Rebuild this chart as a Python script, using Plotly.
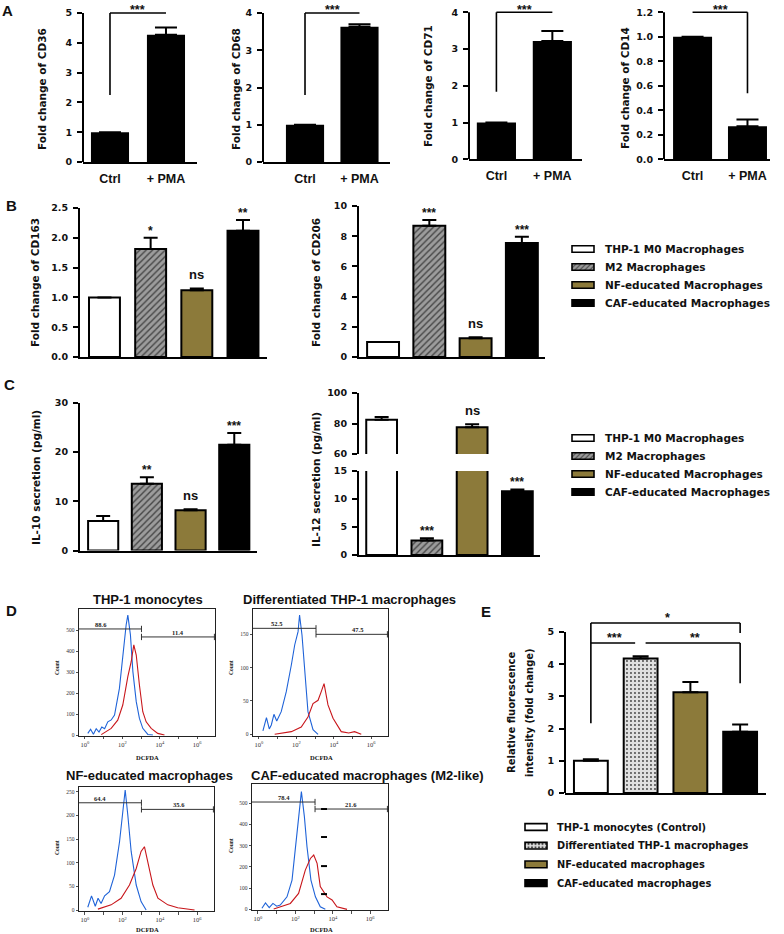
import plotly.graph_objects as go

W, H = 784, 934

# ================= DATA =================
# Panel A
a_categories = ["Ctrl", "+ PMA"]
a_cd36 = [1.0, 4.27]
a_cd36_err = [0.0, 0.24]
a_cd68 = [1.0, 3.63]
a_cd68_err = [0.0, 0.07]
a_cd71 = [1.0, 3.22]
a_cd71_err = [0.0, 0.27]
a_cd14 = [1.0, 0.27]
a_cd14_err = [0.0, 0.055]
a_bracket_low = [2.25, 1.8, 1.84, 0.54]
a_sig = "***"

# Panels B / C
bc_groups = ["THP-1 M0 Macrophages", "M2 Macrophages",
             "NF-educated Macrophages", "CAF-educated Macrophages"]
b_cd163 = [1.0, 1.81, 1.12, 2.12]
b_cd163_err = [0.0, 0.19, 0.03, 0.18]
b_cd163_sig = ["", "*", "ns", "**"]
b_cd206 = [1.0, 8.7, 1.25, 7.55]
b_cd206_err = [0.0, 0.38, 0.06, 0.42]
b_cd206_sig = ["", "***", "ns", "***"]
c_il10 = [6.0, 13.6, 8.2, 21.5]
c_il10_err = [1.0, 1.3, 0.2, 2.4]
c_il10_sig = ["", "**", "ns", "***"]
c_il12 = [82.5, 2.6, 77.5, 11.4]
c_il12_err = [1.8, 0.4, 2.0, 0.3]
c_il12_sig = ["", "***", "ns", "***"]

# Panel D (log10 DCFDA intensity, counts)
d_titles = ["THP-1 monocytes", "Differentiated THP-1 macrophages",
            "NF-educated macrophages", "CAF-educated macrophages (M2-like)"]
d1_blue_log = [0.15, 0.3, 0.45, 0.6, 0.75, 0.9, 1.05, 1.22, 1.4, 1.58, 1.84, 2.02, 2.2, 2.29, 2.43, 2.56, 2.74, 2.91, 3.09, 3.36, 3.63]
d1_blue_cnt = [8, 28, 4, 30, 14, 38, 30, 63, 72, 95, 222, 381, 524, 571, 476, 302, 159, 79, 32, 3, 0]
d1_red_log = [0.87, 1.1, 1.4, 1.75, 2.02, 2.29, 2.47, 2.61, 2.74, 2.91, 3.09, 3.27, 3.54, 3.89, 4.25]
d1_red_cnt = [2, 15, 32, 71, 143, 278, 349, 429, 381, 238, 111, 63, 32, 8, 0]
d2_blue_log = [0.21, 0.4, 0.55, 0.66, 0.8, 0.95, 1.19, 1.46, 1.73, 1.91, 2.09, 2.17, 2.3, 2.44, 2.62, 2.89, 3.16]
d2_blue_cnt = [5, 25, 8, 14, 30, 20, 34, 64, 104, 134, 154, 179, 149, 94, 34, 7, 0]
d2_red_log = [0.84, 1.73, 2.26, 2.62, 2.89, 3.16, 3.33, 3.48, 3.69, 3.96, 4.4, 4.8, 5.11, 5.47]
d2_red_cnt = [0, 4, 11, 26, 46, 51, 64, 76, 44, 24, 4, 2, 4, 0]
d3_blue_log = [0.15, 0.35, 0.55, 0.7, 0.86, 1.05, 1.31, 1.58, 1.85, 2.02, 2.15, 2.29, 2.47, 2.74, 3.0, 3.27]
d3_blue_cnt = [6, 30, 8, 25, 14, 30, 39, 74, 145, 208, 254, 201, 124, 53, 18, 0]
d3_red_log = [0.69, 1.4, 1.93, 2.38, 2.74, 3.0, 3.18, 3.36, 3.63, 3.9, 4.43, 4.96, 5.86]
d3_red_cnt = [2, 11, 25, 53, 88, 124, 134, 102, 53, 25, 11, 5, 0]
d4_blue_log = [0.21, 0.4, 0.6, 0.8, 1.0, 1.19, 1.55, 1.82, 1.97, 2.17, 2.32, 2.48, 2.62, 2.83, 3.07, 3.33, 3.6]
d4_blue_cnt = [5, 30, 8, 28, 15, 20, 59, 138, 264, 437, 555, 437, 295, 138, 59, 12, 0]
d4_red_log = [0.84, 1.73, 2.17, 2.53, 2.8, 2.98, 3.16, 3.33, 3.69, 3.96, 4.22, 4.76]
d4_red_cnt = [2, 28, 75, 185, 240, 256, 217, 107, 59, 44, 12, 0]
d_gate_bound = [3.02, 3.05, 3.02, 3.05]
d_gate_left_pct = ["88.6", "52.5", "64.4", "78.4"]
d_gate_right_pct = ["11.4", "47.5", "35.6", "21.6"]
d_gate_left_level = [505, 159, 227, 506]
d_gate_right_level = [467, 150, 213, 473]
d_yticks = [[0, 100, 200, 300, 400, 500], [0, 50, 100, 150],
            [0, 50, 100, 150, 200, 250], [0, 100, 200, 300, 400, 500]]
d_xtick_major = [0, 2, 4, 6]
d_xtick_minor = [1, 3, 5]
d4_marks = [473, 341, 204, 72]

# Panel E
e_groups = ["THP-1 monocytes (Control)", "Differentiated THP-1 macrophages",
            "NF-educated macrophages", "CAF-educated macrophages"]
e_rfi = [1.0, 4.18, 3.13, 1.9]
e_rfi_err = [0.05, 0.07, 0.32, 0.23]

# ================= STYLE =================
OLIVE = "#8c7a3a"
HATCH_BG = "#9c9c9c"
bc_fill = ["white", HATCH_BG, OLIVE, "black"]
bc_pat = ["", "/", "", ""]
e_fill = ["white", "#e0e0e0", OLIVE, "black"]
e_pat = ["", ".", "", ""]

TICKF = dict(family="DejaVu Sans", size=9.5, color="#111111", weight="bold")
ARIALB = "Liberation Sans"

fig = go.Figure()
layout = {}
shapes = []
ann = []


def refs(n):
    return ("x", "y") if n == 1 else (f"x{n}", f"y{n}")


def keys(n):
    return ("xaxis", "yaxis") if n == 1 else (f"xaxis{n}", f"yaxis{n}")


def dx(l, r):
    return [l / W, r / W]


def dy(top, bottom):
    return [1 - bottom / H, 1 - top / H]


def base(**kw):
    d = dict(showgrid=False, zeroline=False, showline=False, ticks="",
             showticklabels=False, fixedrange=True, automargin=False)
    d.update(kw)
    return d


def bar_panel(n, xs, vals, errs, xpx, xrange, width, ypx0, ypxtop, r0, rmax, dtick,
              fills, pats, fg, cap, outline=2, extra=0, fmt=None, ticktext=None,
              showx=True, showy=True, psize=4.5, psol=0.3):
    xr, yr = refs(n)
    kx, ky = keys(n)
    rtop = r0 + (rmax - r0) * (ypx0 - (ypxtop - extra)) / (ypx0 - ypxtop)
    xa = base(domain=dx(*xpx), range=xrange, anchor=yr,
              showline=showx, linecolor="black", linewidth=2)
    if ticktext is not None:
        xa.update(showticklabels=True, tickmode="array", tickvals=list(range(len(ticktext))),
                  ticktext=ticktext, ticklabelstandoff=4,
                  tickfont=dict(family=ARIALB, size=12.5, color="#111", weight="bold"))
    ya = base(domain=dy(ypxtop - extra, ypx0), range=[r0, rtop], anchor=xr)
    if showy:
        ya.update(showticklabels=True, ticks="outside", ticklen=5, tickwidth=2,
                  tickcolor="black", tickmode="linear", tick0=r0, dtick=dtick,
                  tickfont=TICKF, ticklabelstandoff=3)
        if fmt:
            ya["tickformat"] = fmt
        if extra > 0:
            shapes.append(dict(type="line", xref=f"{xr} domain", yref=yr, x0=0, x1=0,
                               y0=r0, y1=rmax, line=dict(color="black", width=2)))
        else:
            ya.update(showline=True, linecolor="black", linewidth=2)
    layout[kx] = xa
    layout[ky] = ya
    fig.add_trace(go.Bar(
        x=xs, y=vals, width=width, xaxis=xr, yaxis=yr, showlegend=False,
        hoverinfo="skip",
        marker=dict(color=fills, line=dict(color="black", width=outline),
                    pattern=dict(shape=pats, fgcolor=fg, fgopacity=1, size=psize,
                                 solidity=psol, fillmode="overlay")),
        error_y=dict(type="data", symmetric=False, array=errs,
                     arrayminus=[0] * len(errs), color="black", thickness=2, width=cap)))
    return xr, yr


def sig_labels(xr, yr, vals, errs, sigs, size=12):
    for i, s in enumerate(sigs):
        if not s:
            continue
        ann.append(dict(xref=xr, yref=yr, x=i, y=vals[i] + errs[i], text=s,
                        showarrow=False, yanchor="bottom",
                        yshift=4 if s == "ns" else -2,
                        font=dict(family=ARIALB, size=13 if s == "ns" else size,
                                  color="#111", weight="bold")))


def text(x, y, s, size, family=ARIALB, angle=0, anchor="center", weight="bold", color="#111"):
    ann.append(dict(xref="paper", yref="paper", x=x / W, y=1 - y / H, text=s,
                    showarrow=False, textangle=angle, xanchor=anchor, yanchor="middle",
                    font=dict(family=family, size=size, color=color, weight=weight)))


# ================= PANEL A =================
a_sets = [
    (1, a_cd36, a_cd36_err, (83, 197), [-0.482, 1.554], 0.68, 162, 13, 5, 1, None, "CD36", 42, 89),
    (2, a_cd68, a_cd68_err, (263, 390), [-0.771, 1.56], 0.70, 162, 13, 4, 1, None, "CD68", 236, 89),
    (3, a_cd71, a_cd71_err, (469, 582), [-0.49, 1.53], 0.70, 159.3, 12.3, 4, 1, None, "CD71", 428, 86),
    (4, a_cd14, a_cd14_err, (664, 770), [-0.52, 1.41], 0.71, 159.3, 12.3, 1.2, 0.2, ".1f", "CD14", 625, 88),
]
for k, (n, v, e, xpx, xrg, wd, y0, yt, ym, dt, fmt, name, lx, ly) in enumerate(a_sets):
    xr, yr = bar_panel(n, [0, 1], v, e, xpx, xrg, wd, y0, yt, 0, ym, dt,
                       ["black", "black"], ["", ""], "black", 11,
                       outline=0, extra=7, fmt=fmt, ticktext=a_categories)
    lo = a_bracket_low[k]
    if n < 4:
        pts = [(0, lo), (0, ym), (1, ym)]
    else:
        pts = [(0, ym), (1, ym), (1, lo)]
    for (xa_, ya_), (xb_, yb_) in zip(pts[:-1], pts[1:]):
        shapes.append(dict(type="line", xref=xr, yref=yr, x0=xa_, y0=ya_, x1=xb_, y1=yb_,
                           line=dict(color="black", width=1.6)))
    ann.append(dict(xref=xr, yref="paper", x=0.5, y=1 - 0.5 / H, text=a_sig, showarrow=False,
                    yanchor="top",
                    font=dict(family=ARIALB, size=12.5, color="#111", weight="bold")))
    text(lx, ly, f"Fold change of {name}", 10.5, family="DejaVu Sans", angle=-90)

text(8, 11, "A", 15)

# ================= PANEL B =================
xr, yr = bar_panel(5, [0, 1, 2, 3], b_cd163, b_cd163_err, (80, 267), [-0.53, 3.52], 0.67,
                   357, 208, 0, 2.5, 0.5, bc_fill, bc_pat, "#1e1e1e", 7, fmt=".1f")
sig_labels(xr, yr, b_cd163, b_cd163_err, b_cd163_sig)
xr, yr = bar_panel(6, [0, 1, 2, 3], b_cd206, b_cd206_err, (359, 545), [-0.52, 3.5], 0.69,
                   357, 206, 0, 10, 2, bc_fill, bc_pat, "#1e1e1e", 7)
sig_labels(xr, yr, b_cd206, b_cd206_err, b_cd206_sig)
text(35, 283, "Fold change of CD163", 10.5, family="DejaVu Sans", angle=-90)
text(316, 283, "Fold change of CD206", 10.5, family="DejaVu Sans", angle=-90)
text(11, 205, "B", 15)

# ================= PANEL C =================
xr, yr = bar_panel(7, [0, 1, 2, 3], c_il10, c_il10_err, (80, 257), [-0.53, 3.52], 0.69,
                   550.5, 403, 0, 30, 10, bc_fill, bc_pat, "#1e1e1e", 7)
sig_labels(xr, yr, c_il10, c_il10_err, c_il10_sig)
# broken axis: lower part
xr, yr = bar_panel(8, [0, 1, 2, 3], c_il12, c_il12_err, (359, 540), [-0.5, 3.5], 0.68,
                   555, 471, 0, 15, 5, bc_fill, bc_pat, "#1e1e1e", 7)
sig_labels(xr, yr, c_il12, c_il12_err, [s if s != "ns" else "" for s in c_il12_sig])
# broken axis: upper part
xr, yr = bar_panel(9, [0, 1, 2, 3], c_il12, c_il12_err, (359, 540), [-0.5, 3.5], 0.68,
                   454, 393, 60, 100, 20, bc_fill, bc_pat, "#1e1e1e", 7, showx=False)
sig_labels(xr, yr, c_il12, c_il12_err, [s if s == "ns" else "" for s in c_il12_sig])
text(36, 478, "IL-10 secretion (pg/ml)", 10.5, family="DejaVu Sans", angle=-90)
text(316, 480, "IL-12 secretion (pg/ml)", 10.5, family="DejaVu Sans", angle=-90)
text(9, 384, "C", 15)


# ================= LEGENDS (B, C, E) =================
def legend_block(n, swatch_px, row_top, row_step, labels, fills, pats, fg, text_x, size):
    xr, yr = refs(n)
    kx, ky = keys(n)
    l, r = swatch_px
    pad = 0.08 * (r - l)
    layout[kx] = base(domain=dx(l - pad, r + pad), range=[-0.08, 1.08], anchor=yr)
    layout[ky] = base(domain=dy(row_top - row_step / 2, row_top + row_step * 3.5),
                      range=[3.5, -0.5], anchor=xr)
    fig.add_trace(go.Bar(
        x=[1] * len(labels), y=list(range(len(labels))), orientation="h", width=0.36,
        xaxis=xr, yaxis=yr, showlegend=False, hoverinfo="skip",
        marker=dict(color=fills, line=dict(color="black", width=1.6),
                    pattern=dict(shape=pats, fgcolor=fg, fgopacity=1, size=3.5,
                                 solidity=0.3, fillmode="overlay"))))
    for i, s in enumerate(labels):
        ann.append(dict(xref="paper", yref=yr, x=text_x / W, y=i, text=s, showarrow=False,
                        xanchor="left", yanchor="middle",
                        font=dict(family="DejaVu Sans", size=size, color="#111", weight="bold")))


legend_block(15, (572, 594), 249, 18, bc_groups, bc_fill, bc_pat, "#1e1e1e", 603, 10.5)
legend_block(16, (572, 594), 438, 18, bc_groups, bc_fill, bc_pat, "#1e1e1e", 603, 10.5)
legend_block(17, (525, 547), 827, 18.7, e_groups, e_fill, e_pat, "#555555", 555, 9.8)

# ================= PANEL D =================
d_sets = [
    (10, (79, 215), (609, 735.7), [-0.32, 6.95], [-3, 600], d1_blue_log, d1_blue_cnt, d1_red_log, d1_red_cnt, 0.88, 4.95),
    (11, (253, 388), (609, 735.5), [-0.32, 6.9], [-1.8, 188], d2_blue_log, d2_blue_cnt, d2_red_log, d2_red_cnt, 0.96, 5.29),
    (12, (79, 214), (786.7, 911), [-0.32, 6.9], [-2, 261], d3_blue_log, d3_blue_cnt, d3_red_log, d3_red_cnt, 0.78, 5.05),
    (13, (252, 388), (784, 910), [-0.32, 6.95], [-3, 591], d4_blue_log, d4_blue_cnt, d4_red_log, d4_red_cnt, 1.39, 4.97),
]
SERIF = "Liberation Serif"
for k, (n, xpx, ypx, xrg, yrg, bl, bc, rl, rc, lpos, rpos) in enumerate(d_sets):
    xr, yr = refs(n)
    kx, ky = keys(n)
    layout[kx] = base(domain=dx(*xpx), range=xrg, type="log", anchor=yr,
                      showline=True, mirror=True, linecolor="#222", linewidth=1,
                      ticks="outside", ticklen=2.5, tickwidth=0.8, tickcolor="#222",
                      showticklabels=True, tickmode="array",
                      tickvals=[10 ** p for p in d_xtick_major],
                      ticktext=[f"10<sup>{p}</sup>" for p in d_xtick_major],
                      minor=dict(tickmode="array", tickvals=[10 ** p for p in d_xtick_minor],
                                 ticks="outside", ticklen=2.5, tickwidth=0.8, tickcolor="#222"),
                      tickfont=dict(family=SERIF, size=6.5, color="#333"))
    layout[ky] = base(domain=dy(*ypx), range=yrg, anchor=xr,
                      showline=True, mirror=True, linecolor="#222", linewidth=1,
                      ticks="outside", ticklen=2.5, tickwidth=0.8, tickcolor="#222",
                      showticklabels=True, tickmode="array", tickvals=d_yticks[k],
                      tickfont=dict(family=SERIF, size=5.5, color="#333"))
    fig.add_trace(go.Scatter(x=[10 ** v for v in bl], y=bc, mode="lines", xaxis=xr, yaxis=yr,
                             line=dict(color="#1f63d8", width=1.1), showlegend=False,
                             hoverinfo="skip"))
    fig.add_trace(go.Scatter(x=[10 ** v for v in rl], y=rc, mode="lines", xaxis=xr, yaxis=yr,
                             line=dict(color="#c8161b", width=1.1), showlegend=False,
                             hoverinfo="skip"))
    # gates
    lo_x = 10 ** xrg[0]
    hi_x = 10 ** xrg[1]
    bx = 10 ** d_gate_bound[k]
    gl = d_gate_left_level[k]
    gr = d_gate_right_level[k]
    th = 0.025 * (yrg[1] - yrg[0])
    gate_lines = [(lo_x, gl, bx, gl), (bx, gl - th, bx, gl + th),
                  (bx, gr, hi_x, gr), (bx, gr - th, bx, gr + th),
                  (hi_x * 0.93, gr - th, hi_x * 0.93, gr + th)]
    for (x0, y0, x1, y1) in gate_lines:
        shapes.append(dict(type="line", xref=xr, yref=yr, x0=x0, y0=y0, x1=x1, y1=y1,
                           line=dict(color="#333", width=1)))
    ann.append(dict(xref=xr, yref=yr, x=lpos, y=gl, text=d_gate_left_pct[k], showarrow=False,
                    yanchor="bottom", yshift=-1,
                    font=dict(family=SERIF, size=6.5, color="#222", weight="bold")))
    ann.append(dict(xref=xr, yref=yr, x=rpos, y=gr, text=d_gate_right_pct[k], showarrow=False,
                    yanchor="bottom", yshift=-1,
                    font=dict(family=SERIF, size=6.5, color="#222", weight="bold")))

# odd marks in the last histogram
for m in d4_marks:
    shapes.append(dict(type="line", xref="x13", yref="y13", x0=10 ** 3.37, x1=10 ** 3.69,
                       y0=m, y1=m, line=dict(color="black", width=2)))

text(147.5, 599, d_titles[0], 13)
text(349, 599, d_titles[1], 13)
text(149, 775, d_titles[2], 13)
text(249, 775, d_titles[3], 13, anchor="left")
for (cx, cy) in [(57, 668), (231, 668), (57, 848), (231, 846)]:
    text(cx, cy, "Count", 5.5, family=SERIF, angle=-90)
for (cx, cy) in [(147, 757), (321, 757), (147, 929), (321, 929)]:
    text(cx, cy, "DCFDA", 6.5, family=SERIF)
text(11, 610, "D", 15)

# ================= PANEL E =================
xr, yr = bar_panel(14, [0, 1, 2, 3], e_rfi, e_rfi_err, (565, 766), [-0.52, 3.52], 0.68,
                   793, 632, 0, 5, 1, e_fill, e_pat, "#4a4a4a", 8, extra=21,
                   psize=4, psol=0.18)
e_brackets = [((0, 2.17), (0, 5.28)), ((0, 5.28), (3, 5.28)), ((3, 5.28), (3, 4.97)),
              ((0, 4.66), (0.89, 4.66)), ((1.1, 4.66), (3, 4.66)), ((3, 4.66), (3, 3.41))]
for (x0, y0), (x1, y1) in e_brackets:
    shapes.append(dict(type="line", xref=xr, yref=yr, x0=x0, y0=y0, x1=x1, y1=y1,
                       line=dict(color="black", width=1.6)))
for (sx, sy, s) in [(1.55, 5.28, "*"), (0.48, 4.66, "***"), (2.09, 4.66, "**")]:
    ann.append(dict(xref=xr, yref=yr, x=sx, y=sy, text=s, showarrow=False, yanchor="bottom",
                    yshift=-4, font=dict(family=ARIALB, size=12.5, color="#111", weight="bold")))
text(511, 713, "Relative fluorescence", 10, family="DejaVu Sans", angle=-90)
text(529, 713, "intensity (fold change)", 10, family="DejaVu Sans", angle=-90)
text(486, 611, "E", 15)

fig.update_layout(
    width=W, height=H, margin=dict(l=0, r=0, t=0, b=0), template="none",
    paper_bgcolor="white", plot_bgcolor="rgba(0,0,0,0)", showlegend=False,
    font=dict(family=ARIALB, color="#111"), barmode="overlay",
    shapes=shapes, annotations=ann, **layout)

fig.write_html("out.html", config={"displayModeBar": False, "staticPlot": True},
               post_script="document.body.style.margin='0';document.body.style.overflow='hidden';")
